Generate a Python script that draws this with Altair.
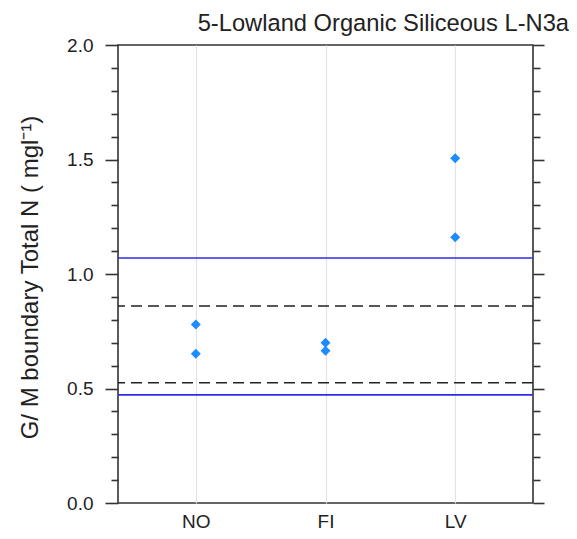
import altair as alt
import pandas as pd

# ---- data ----
countries = ["NO", "NO", "FI", "FI", "LV", "LV"]
values = [0.78, 0.652, 0.700, 0.665, 1.505, 1.16]
country_order = ["NO", "FI", "LV"]
blue_bounds = [1.07, 0.472]
dashed_bounds = [0.86, 0.525]
y_ticks = [0.0, 0.1, 0.2, 0.3, 0.4, 0.5, 0.6, 0.7, 0.8, 0.9, 1.0,
           1.1, 1.2, 1.3, 1.4, 1.5, 1.6, 1.7, 1.8, 1.9, 2.0]

pts = pd.DataFrame({"country": countries, "value": values})
blue = pd.DataFrame({"bound": blue_bounds})
dashed = pd.DataFrame({"bound": dashed_bounds})

FONT = "Liberation Sans"
INK = "#222222"
FRAME = "#333333"
major = "abs(datum.value*2 - round(datum.value*2)) < 0.001"

yscale = alt.Scale(domain=[0, 2], nice=False, zero=False)

left_axis = alt.Axis(
    orient="left", values=y_ticks, labelOverlap=False, labelFlush=False,
    labelExpr=f"{major} ? format(datum.value, '.1f') : ''",
    tickSize={"condition": {"test": major, "value": 13}, "value": 7},
    tickColor=FRAME, tickWidth=1.6, domain=False, grid=False,
    labelFontSize=19, labelFont=FONT, labelColor=INK, labelPadding=12,
    title="G/ M boundary Total N ( mgl⁻¹)", titleFontSize=24, titleFont=FONT,
    titleFontWeight="normal", titleColor=INK, titleX=-81, titleY=232,
    titleAngle=270, titleBaseline="alphabetic", titleAlign="center",
)

right_axis = alt.Axis(
    orient="right", values=y_ticks, labels=False, title=None,
    tickSize={"condition": {"test": major, "value": 11}, "value": 7},
    tickColor=FRAME, tickWidth=1.6, domain=False, grid=False,
)

x_enc = alt.X(
    "country:N", sort=country_order,
    scale=alt.Scale(type="point", domain=country_order, padding=0.6),
    axis=alt.Axis(title=None, ticks=False, tickSize=0, domain=False, grid=True,
                  gridColor="#E3E3E3", gridWidth=1.2, labelAngle=0,
                  labelFontSize=19, labelFont=FONT, labelColor=INK,
                  labelPadding=9),
)

points = alt.Chart(pts).mark_point(
    shape="diamond", filled=True, size=100, color="#1E8CFF", opacity=1
).encode(
    x=x_enc,
    y=alt.Y("value:Q", scale=yscale, axis=left_axis),
)

blue_rules = alt.Chart(blue).mark_rule(color="#2C2CE6", strokeWidth=1.6).encode(
    y=alt.Y("bound:Q", scale=yscale, axis=right_axis),
)

dashed_rules = alt.Chart(dashed).mark_rule(
    color="#222222", strokeWidth=1.6, strokeDash=[11, 6]
).encode(
    y=alt.Y("bound:Q", scale=yscale, axis=None),
)

chart = alt.layer(points, blue_rules, dashed_rules).resolve_scale(
    y="shared"
).resolve_axis(
    y="independent"
).properties(
    width=415, height=458,
    padding={"left": 110, "top": 37, "right": 36, "bottom": 28},
    autosize=alt.AutoSizeParams(type="none"),
    title=alt.TitleParams(
        text="5-Lowland Organic Siliceous L-N3a", anchor="end", frame="group",
        dx=36, dy=29, offset=10, baseline="alphabetic", fontSize=23.7,
        font=FONT, fontWeight="normal", color=INK,
    ),
).configure_view(stroke=FRAME, strokeWidth=1.6)

chart.save("out.html", embed_options={"renderer": "svg", "actions": False})
